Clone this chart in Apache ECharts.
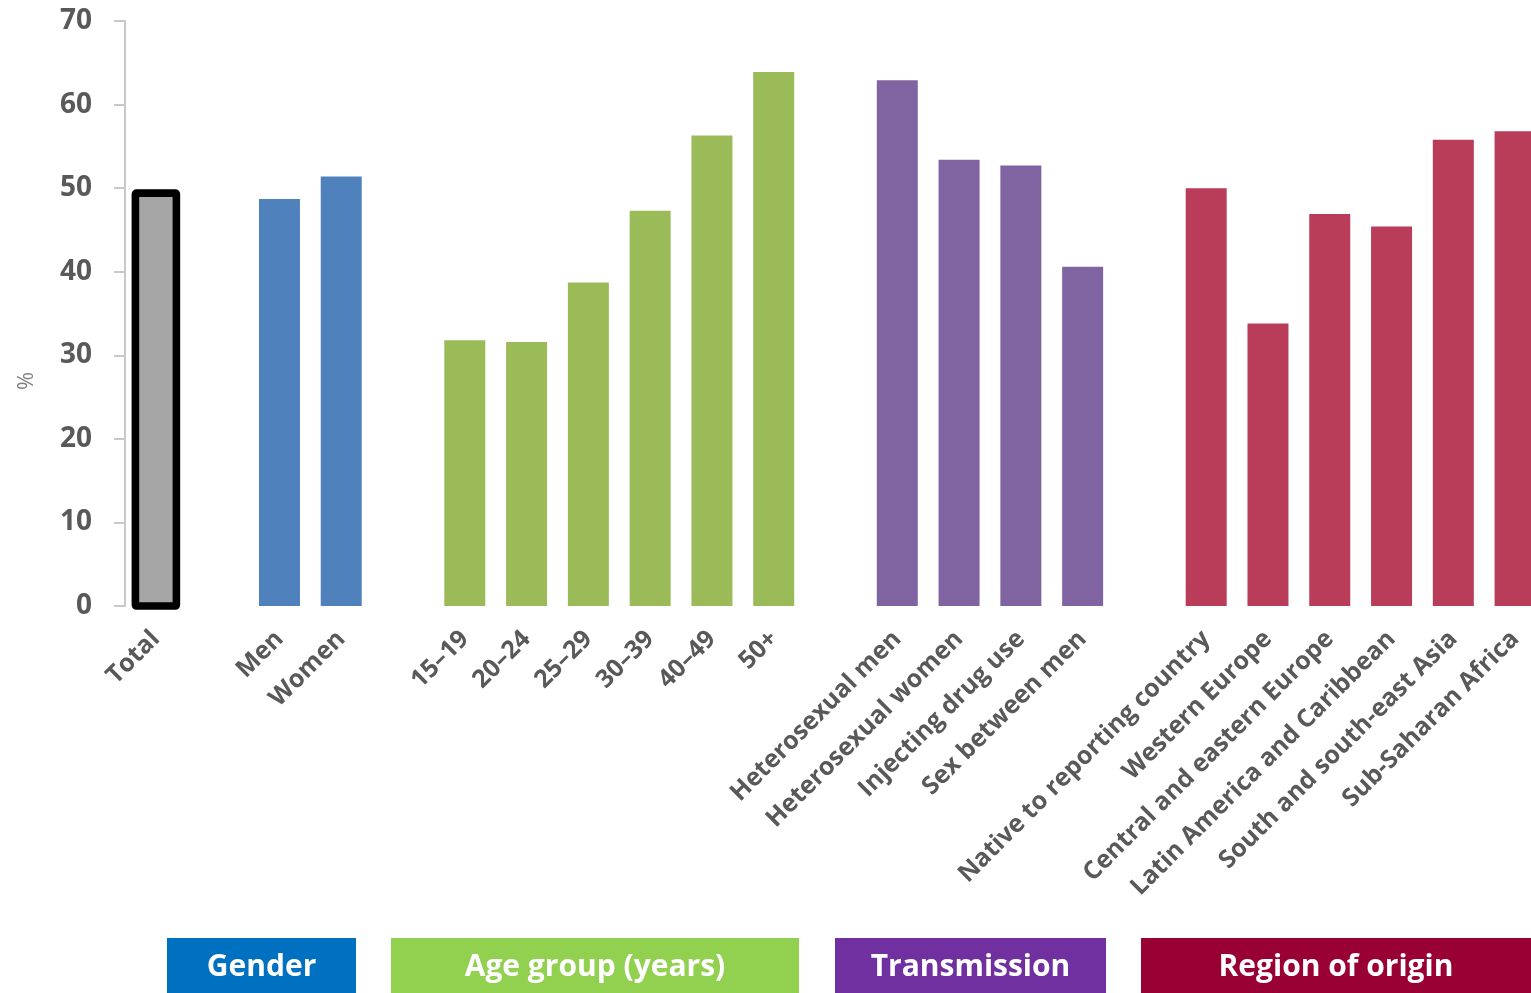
<!DOCTYPE html>
<html>
<head>
<meta charset="utf-8">
<script src="https://cdn.jsdelivr.net/npm/echarts@6/dist/echarts.min.js"></script>
<style>
  html, body { margin: 0; padding: 0; background: #ffffff; }
  #chart { width: 1531px; height: 993px; }
</style>
</head>
<body>
<div id="chart"></div>
<script>
// Share (%) by population group
const totalLabels = ['Total'];
const totalValues = [49.4];

const genderLabels = ['Men', 'Women'];
const genderValues = [48.7, 51.4];

const ageLabels = ['15–19', '20–24', '25–29', '30–39', '40–49', '50+'];
const ageValues = [31.8, 31.6, 38.7, 47.3, 56.3, 63.9];

const transmissionLabels = ['Heterosexual men', 'Heterosexual women', 'Injecting drug use', 'Sex between men'];
const transmissionValues = [62.9, 53.4, 52.7, 40.6];

const regionLabels = ['Native to reporting country', 'Western Europe', 'Central and eastern Europe',
  'Latin America and Caribbean', 'South and south-east Asia', 'Sub-Saharan Africa'];
const regionValues = [50.0, 33.8, 46.9, 45.4, 55.8, 56.8];

const yTicks = [0, 10, 20, 30, 40, 50, 60, 70];

const groupTitles = ['Gender', 'Age group (years)', 'Transmission', 'Region of origin'];

// Styling per group
const barColors = {
  gender: '#4F81BD',
  age: '#9BBB59',
  transmission: '#8064A2',
  region: '#B93C58'
};
const boxColors = ['#0070C0', '#92D050', '#7030A0', '#990033'];
const BAR_WIDTH = 41;

// Build category slots, with an empty slot between groups
const categories = [];
const barData = [];
const totalData = [];
let gapCount = 0;
function addGap() {
  gapCount += 1;
  categories.push(' '.repeat(gapCount));
  barData.push('-');
}
function addGroup(labels, values, key) {
  labels.forEach((lab, i) => {
    categories.push(lab);
    barData.push({ value: values[i], itemStyle: { color: barColors[key] } });
  });
}
// Total gets its own outlined bar (custom series), so its slot is empty in the bar series
totalLabels.forEach((lab, i) => {
  totalData.push([categories.length, totalValues[i]]);
  categories.push(lab);
  barData.push('-');
});
addGap(); addGroup(genderLabels, genderValues, 'gender');
addGap(); addGroup(ageLabels, ageValues, 'age');
addGap(); addGroup(transmissionLabels, transmissionValues, 'transmission');
addGap(); addGroup(regionLabels, regionValues, 'region');

// Outlined grey bar with its border centred on the bar edge
function renderTotal(params, api) {
  const idx = api.value(0);
  const top = api.coord([idx, api.value(1)]);
  const base = api.coord([idx, 0]);
  return {
    type: 'rect',
    shape: { x: top[0] - BAR_WIDTH / 2, y: top[1], width: BAR_WIDTH, height: base[1] - top[1], r: 1 },
    style: { fill: '#A6A6A6', stroke: '#000000', lineWidth: 7.6, lineJoin: 'round' }
  };
}

// Group boxes under the axis labels
const boxes = [
  { x: 167, w: 189 },
  { x: 391, w: 408 },
  { x: 835, w: 271 },
  { x: 1141, w: 400 }
];
const graphics = [];
boxes.forEach((b, i) => {
  graphics.push({
    type: 'rect',
    left: b.x, top: 938,
    shape: { width: b.w, height: 60 },
    style: { fill: boxColors[i] },
    z: 10
  });
  graphics.push({
    type: 'text',
    x: b.x + Math.min(b.w, 1531 - b.x) / 2, y: 967,
    style: {
      text: groupTitles[i],
      fill: '#ffffff',
      font: 'bold 30px "Open Sans"',
      textAlign: 'center',
      textVerticalAlign: 'middle'
    },
    z: 11
  });
});
// y-axis unit
graphics.push({
  type: 'text',
  x: 27, y: 381,
  rotation: Math.PI / 2,
  style: {
    text: '%',
    fill: '#7F7F7F',
    font: '22px "Open Sans"',
    textAlign: 'center',
    textVerticalAlign: 'middle'
  }
});

const chart = echarts.init(document.getElementById('chart'), null, { renderer: 'canvas' });
chart.setOption({
  animation: false,
  backgroundColor: '#ffffff',
  grid: {
    left: 125, top: 21, width: 1421, height: 585,
    containLabel: false,
    outerBoundsMode: 'none'
  },
  xAxis: {
    type: 'category',
    data: categories,
    axisLine: { show: false },
    axisTick: { show: false },
    axisLabel: {
      interval: 0,
      rotate: 45,
      margin: 29,
      color: '#595959',
      fontFamily: 'Open Sans',
      fontWeight: 'bold',
      fontSize: 25
    }
  },
  yAxis: {
    type: 'value',
    min: yTicks[0],
    max: yTicks[yTicks.length - 1],
    interval: 10,
    axisLine: { show: true, lineStyle: { color: '#C8C8C8', width: 2 } },
    axisTick: { show: true, length: 11, lineStyle: { color: '#C8C8C8', width: 2 } },
    splitLine: { show: false },
    axisLabel: {
      margin: 33,
      color: '#595959',
      fontFamily: 'Open Sans',
      fontWeight: 'bold',
      fontSize: 28
    }
  },
  series: [
    {
      type: 'bar',
      data: barData,
      barWidth: BAR_WIDTH,
      silent: true
    },
    {
      type: 'custom',
      data: totalData,
      encode: { x: 0, y: 1 },
      renderItem: renderTotal,
      silent: true,
      z: 3
    }
  ],
  graphic: graphics
});
</script>
</body>
</html>
